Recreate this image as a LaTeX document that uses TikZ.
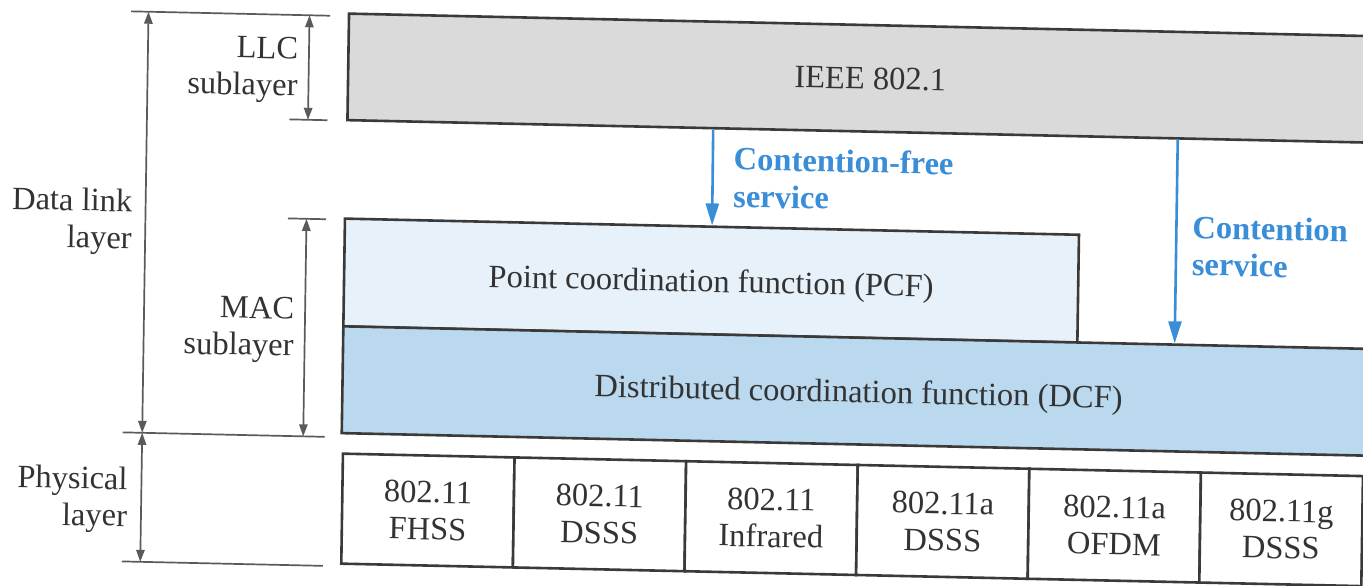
\documentclass[tikz,border=0pt]{standalone}
\usepackage{fontspec}
\setmainfont{Liberation Serif}
\usetikzlibrary{arrows.meta,calc}

\definecolor{ink}{HTML}{333333}
\definecolor{rulegray}{HTML}{5A5A5A}
\definecolor{framegray}{HTML}{3A3A3A}
\definecolor{llcgray}{HTML}{DADADA}
\definecolor{pcfblue}{HTML}{E7F1F9}
\definecolor{dcfblue}{HTML}{BAD8EE}
\definecolor{svcblue}{HTML}{3A8ED8}

\tikzset{
  boxbase/.style={draw=framegray, line width=1.3pt, inner sep=0pt},
  layerbox/.style={boxbase, text depth=0pt},
  cellbox/.style={boxbase, fill=white, align=center, minimum height=55pt},
  layerlabel/.style={inner sep=0pt, align=right, anchor=east},
  svclabel/.style={inner sep=0pt, align=left, anchor=west, text=svcblue,
    font=\fontsize{16.25pt}{18.6pt}\selectfont\bfseries},
  dimline/.style={draw=rulegray, line width=0.85pt},
  dimarrow/.style={draw=rulegray, line width=0.85pt,
    {Triangle[length=6pt,width=4.2pt]}-{Triangle[length=6pt,width=4.2pt]}},
  svcarrow/.style={draw=svcblue, line width=1.3pt,
    -{Triangle[length=11pt,width=6.5pt]}}
}

\begin{document}
\begin{tikzpicture}[x=0.5pt, y=-0.5pt, text=ink,
  font=\fontsize{16.25pt}{18.4pt}\selectfont]
\useasboundingbox (0,0) rectangle (1363,585);
\clip (0,0) rectangle (1363,585);
\fill[white] (0,0) rectangle (1363,585);

% the whole figure sits slightly skewed on the page
\begin{scope}[cm={1,-0.022,0.015,1,(2.175pt,7.48pt)}, transform shape]

  % protocol boxes
  \node[layerbox, fill=llcgray, minimum width=522pt, minimum height=53.25pt]
    (ieee) at (867,74.25) {IEEE 802.1};
  \node[layerbox, fill=pcfblue, minimum width=367pt, minimum height=53.9pt]
    (pcf) at (711,279.9) {Point coordination function (PCF)};
  \node[layerbox, fill=dcfblue, minimum width=516pt, minimum height=53.4pt]
    (dcf) at (860,387.1) {Distributed coordination function (DCF)};

  % physical layer cells
  \node[cellbox, minimum width=85.8pt] (c1) at (431.3,516) {802.11\\FHSS};
  \node[cellbox, minimum width=85.8pt] (c2) at (602.9,516) {802.11\\DSSS};
  \node[cellbox, minimum width=85.8pt] (c3) at (774.5,516) {802.11\\Infrared};
  \node[cellbox, minimum width=85.8pt] (c4) at (946.1,516) {802.11a\\DSSS};
  \node[cellbox, minimum width=85.8pt] (c5) at (1117.7,516) {802.11a\\OFDM};
  \node[cellbox, minimum width=81pt]   (c6) at (1284.5,516) {802.11g\\DSSS};

  % service arrows
  \draw[svcarrow] ($(ieee.south west)!0.3506!(ieee.south east)$) -- (pcf.north);
  \draw[svcarrow] ($(ieee.south west)!0.7944!(ieee.south east)$)
    -- ($(dcf.north west)!0.8046!(dcf.north east)$);
  \node[svclabel] (cflbl) at (731.5,176.1) {Contention-free\\service};
  \node[svclabel] (cnlbl) at (1191,234.4) {Contention\\service};

  % extent markers on the left
  \coordinate (topL) at (127,23.5);   \coordinate (topR) at (326,23.5);
  \coordinate (llcL) at (287,128);    \coordinate (llcR) at (325,128);
  \coordinate (macL) at (287,227);    \coordinate (macR) at (325,227);
  \coordinate (midL) at (125,444.5);  \coordinate (midR) at (327,444.5);
  \coordinate (botL) at (126,573.5);  \coordinate (botR) at (327,573.5);

  \coordinate (dlTop) at (144.5,23.5);
  \coordinate (dlBot) at (144.5,444.5);
  \coordinate (phBot) at (144.5,573.5);
  \coordinate (llcTop) at (305.5,23.5);
  \coordinate (llcBot) at (305.5,128);
  \coordinate (macTop) at (305.5,227);
  \coordinate (macBot) at (305.5,444.5);

  \draw[dimline] (topL) -- (topR);
  \draw[dimline] (llcL) -- (llcR);
  \draw[dimline] (macL) -- (macR);
  \draw[dimline] (midL) -- (midR);
  \draw[dimline] (botL) -- (botR);

  \draw[dimarrow] (dlTop) -- (dlBot);
  \draw[dimarrow] (dlBot) -- (phBot);
  \draw[dimarrow] (llcTop) -- (llcBot);
  \draw[dimarrow] (macTop) -- (macBot);

  % layer names
  \node[layerlabel] (llclbl) at (295,78.9) {LLC\\sublayer};
  \node[layerlabel] (dllbl) at (131.5,234.5) {Data link\\layer};
  \node[layerlabel] (maclbl) at (295,339) {MAC\\sublayer};
  \node[layerlabel] (phylbl) at (131,512.4) {Physical\\layer};

\end{scope}
\end{tikzpicture}
\end{document}
